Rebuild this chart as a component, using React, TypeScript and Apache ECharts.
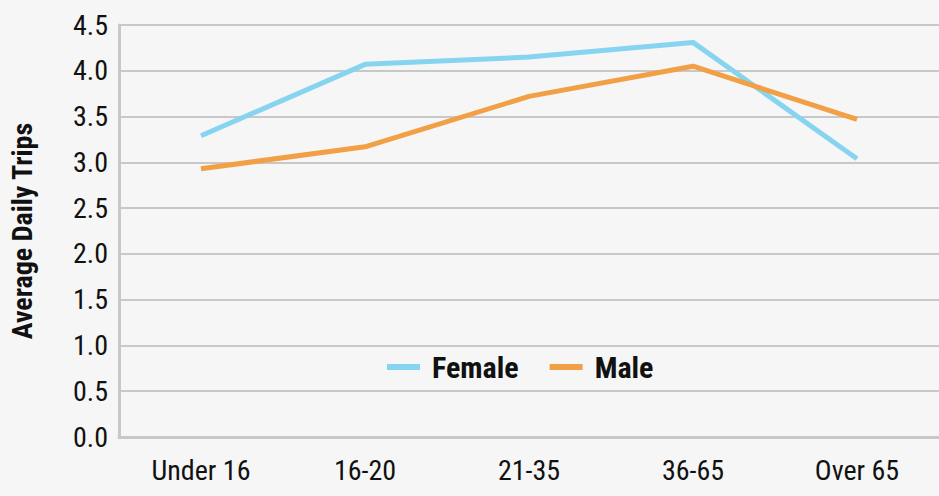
import React, { useEffect, useRef } from "react";
import * as echarts from "echarts";

const categories = ["Under 16", "16-20", "21-35", "36-65", "Over 65"];
const femaleValues = [3.29, 4.07, 4.15, 4.31, 3.04];
const maleValues = [2.93, 3.17, 3.72, 4.05, 3.47];
const yAxisTitle = "Average Daily Trips";

const FONT = "'Roboto Condensed', 'Liberation Sans Narrow', 'DejaVu Sans Condensed', Roboto, sans-serif";

export default function App() {
  const ref = useRef<HTMLDivElement>(null);
  useEffect(() => {
    document.body.style.margin = "0";
    const chart = echarts.init(ref.current!, null, { renderer: "svg" });
    chart.setOption({
      animation: false,
      backgroundColor: "#f6f6f6",
      grid: { left: 116, right: -4, top: 25, bottom: 59, containLabel: false },
      legend: {
        data: ["Female", "Male"],
        left: 382,
        top: 347,
        itemWidth: 33,
        itemHeight: 6,
        itemGap: 31,
        icon: "rect",
        textStyle: { fontFamily: FONT, fontSize: 30, lineHeight: 30, fontWeight: "bold", color: "#111", padding: [0, 0, 0, 7] },
      },
      xAxis: {
        type: "category",
        data: categories,
        boundaryGap: true,
        axisLine: { lineStyle: { color: "#c8c8c8", width: 3 } },
        axisTick: { alignWithLabel: true, length: 9, lineStyle: { color: "#c8c8c8", width: 3 } },
        axisLabel: { fontFamily: FONT, fontSize: 28, color: "#111", margin: 19 },
      },
      yAxis: {
        type: "value",
        min: 0,
        max: 4.5,
        interval: 0.5,
        name: yAxisTitle,
        nameLocation: "middle",
        nameGap: 83,
        nameTextStyle: { fontFamily: FONT, fontSize: 28, fontWeight: "bold", color: "#111" },
        axisLine: { show: true, lineStyle: { color: "#c8c8c8", width: 3 } },
        axisTick: { show: false },
        splitLine: { lineStyle: { color: "#c8c8c8", width: 2 } },
        axisLabel: { fontFamily: FONT, fontSize: 28, color: "#111", margin: 11, formatter: (v: number) => v.toFixed(1) },
      },
      series: [
        {
          name: "Female",
          type: "line",
          data: femaleValues,
          symbol: "none",
          color: "#87d4f0",
          lineStyle: { width: 5, color: "#87d4f0" },
        },
        {
          name: "Male",
          type: "line",
          data: maleValues,
          symbol: "none",
          color: "#f2a046",
          lineStyle: { width: 5, color: "#f2a046" },
        },
      ],
    });
    return () => chart.dispose();
  }, []);
  return <div ref={ref} style={{ position: "fixed", left: 0, top: 0, width: 939, height: 496 }} />;
}
